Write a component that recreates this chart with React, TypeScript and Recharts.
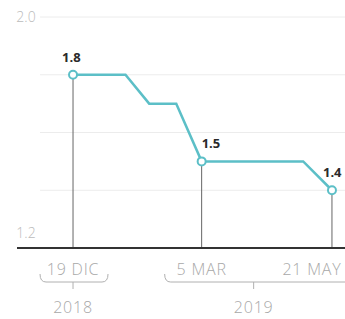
import React from 'react';
import { LineChart, Line, XAxis, YAxis, ReferenceLine } from 'recharts';

// step series (rate, %)
const dates = ['2018-12-19', '2019-01-19', '2019-02-02', '2019-02-18', '2019-03-05', '2019-05-04', '2019-05-21'];
const rates = [1.8, 1.8, 1.7, 1.7, 1.5, 1.5, 1.4];
const highlighted = [true, false, false, false, true, false, true];

const tickDates = ['2018-12-19', '2019-03-05', '2019-05-21'];
const tickLabels = ['19 DIC', '5 MAR', '21 MAY'];
const years = ['2018', '2019'];
const yTicks = [1.2, 2.0];
const gridValues = [1.4, 1.6, 1.8, 2.0];

const DAY = 86400000;
const toTime = (d: string) => Date.parse(d + 'T00:00:00Z');

const data = dates.map((d, i) => ({
  t: toTime(d),
  rate: rates[i],
  key: highlighted[i],
}));

const ticks = tickDates.map(toTime);
const first = data[0].t;
const last = data[data.length - 1].t;
const domain = [first - 33.1 * DAY, last + 7.7 * DAY];
const gridStart = first - 19.5 * DAY;

const colors = {
  line: '#5cbfc7',
  drop: '#666',
  grid: '#ececec',
  axis: '#333',
  muted: '#a8a8a8',
  label: '#2a2a2a',
};

// year brackets drawn under the first tick of each year (offsets in px from the tick)
const brackets: Record<number, { from: number; to: number; mid: number; year: string }> = {
  0: { from: -33, to: 35, mid: 0, year: years[0] },
  1: { from: -37, to: 150, mid: 52, year: years[1] },
};

// label offsets for the highlighted values
const labelDx = [-11, 0, -9];

const axisText = { fontSize: 16, fontWeight: 300, letterSpacing: 0.8, fill: colors.muted };

const XTick = (props: any) => {
  const { x, y, index } = props;
  const b = brackets[index];
  const yb = y + 34;
  return (
    <g>
      <text x={index === tickLabels.length - 1 ? x - 20 : x} y={y + 27} textAnchor="middle" {...axisText}>
        {tickLabels[index]}
      </text>
      {b && (
        <g>
          <path
            d={`M${x + b.from} ${yb - 8} Q${x + b.from} ${yb} ${x + b.from + 6} ${yb} L${x + b.to - 6} ${yb} Q${x + b.to} ${yb} ${x + b.to} ${yb - 8}`}
            fill="none"
            stroke="#b0b0b0"
            strokeWidth={1}
          />
          <line x1={x + b.mid} y1={yb} x2={x + b.mid} y2={yb + 7} stroke="#b0b0b0" />
          <text x={x + b.mid} y={y + 65} textAnchor="middle" {...axisText}>
            {b.year}
          </text>
        </g>
      )}
    </g>
  );
};

const YTick = (props: any) => {
  const { x, y, payload } = props;
  const bottom = payload.value === yTicks[0];
  return (
    <text x={x + 9} y={y + (bottom ? -10 : 5)} textAnchor="middle" fontSize={14} fontWeight={300} fill="#bbb">
      {payload.value.toFixed(1)}
    </text>
  );
};

const renderDot = (props: any) => {
  const { cx, cy, payload, index } = props;
  if (!payload.key) return <g key={index} />;
  const k = data.filter((d, i) => d.key && i < index).length;
  return (
    <g key={index}>
      <circle cx={cx} cy={cy} r={4} fill="#fff" stroke={colors.line} strokeWidth={2} />
      <text x={cx + labelDx[k]} y={cy - 13} fontSize={13} fontWeight={700} fill={colors.label}>
        {payload.rate.toFixed(1)}
      </text>
    </g>
  );
};

export default function App() {
  return (
    <div style={{ position: 'absolute', left: 0, top: 0, fontFamily: 'Open Sans, sans-serif' }}>
      <LineChart width={345} height={319} data={data} margin={{ top: 17, right: 0, bottom: 0, left: 0 }}>
        {gridValues.map((v) => (
          <ReferenceLine
            key={v}
            segment={[{ x: gridStart, y: v }, { x: domain[1], y: v }]}
            stroke={colors.grid}
            strokeWidth={1}
            ifOverflow="visible"
          />
        ))}
        {data
          .filter((d) => d.key)
          .map((d) => (
            <ReferenceLine
              key={d.t}
              segment={[{ x: d.t, y: yTicks[0] }, { x: d.t, y: d.rate }]}
              stroke={colors.drop}
              strokeWidth={1}
            />
          ))}
        <XAxis
          dataKey="t"
          type="number"
          domain={domain}
          ticks={ticks}
          height={71}
          interval={0}
          tickLine={false}
          tickSize={0}
          tickMargin={0}
          axisLine={{ stroke: colors.axis, strokeWidth: 2 }}
          tick={<XTick />}
        />
        <YAxis
          type="number"
          domain={[1.2, 2.0]}
          ticks={yTicks}
          width={17}
          axisLine={false}
          tickLine={false}
          tickSize={0}
          tickMargin={0}
          tick={<YTick />}
        />
        <Line
          type="linear"
          dataKey="rate"
          stroke={colors.line}
          strokeWidth={2.5}
          dot={renderDot}
          activeDot={false}
          isAnimationActive={false}
        />
      </LineChart>
    </div>
  );
}
